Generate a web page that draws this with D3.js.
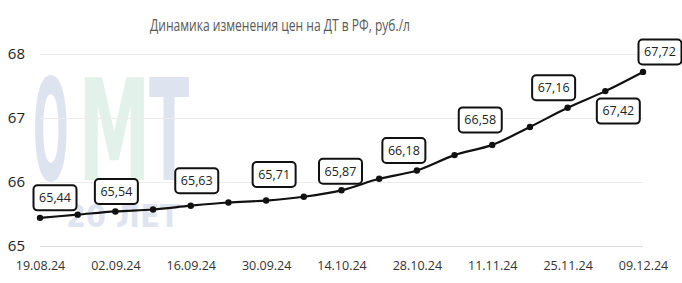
<!DOCTYPE html>
<html>
<head>
<meta charset="utf-8">
<script src="https://cdn.jsdelivr.net/npm/d3@7"></script>
<style>
  body { margin: 0; background: #fff; }
  svg { display: block; font-family: "Open Sans", sans-serif; }
</style>
</head>
<body>
<div id="chart"></div>
<script>
// weekly diesel prices, rub/l
var dates = ["19.08.24", "26.08.24", "02.09.24", "09.09.24", "16.09.24", "23.09.24",
             "30.09.24", "07.10.24", "14.10.24", "21.10.24", "28.10.24", "04.11.24",
             "11.11.24", "18.11.24", "25.11.24", "02.12.24", "09.12.24"];
var prices = [65.44, 65.49, 65.54, 65.57, 65.63, 65.68, 65.71, 65.77, 65.87, 66.05,
              66.18, 66.42, 66.58, 66.86, 67.16, 67.42, 67.72];
var labelled = ["19.08.24", "02.09.24", "16.09.24", "30.09.24", "14.10.24", "28.10.24",
                "11.11.24", "25.11.24", "02.12.24", "09.12.24"];
var xTicks = ["19.08.24", "02.09.24", "16.09.24", "30.09.24", "14.10.24", "28.10.24",
              "11.11.24", "25.11.24", "09.12.24"];
var yTicks = [65, 66, 67, 68];
var title = "Динамика изменения цен на ДТ в РФ, руб./л";

var width = 682, height = 283;
var margin = {top: 54, right: 39, bottom: 37, left: 40};

var svg = d3.select("#chart").append("svg")
    .attr("width", width)
    .attr("height", height);

var x = d3.scalePoint()
    .domain(dates)
    .range([margin.left, width - margin.right]);

var y = d3.scaleLinear()
    .domain([65, 68])
    .range([height - margin.bottom, margin.top]);

// watermark (letter, left x, x-scale, colour)
var wm = svg.append("g").attr("class", "watermark");
[["O", 33, 0.3, "#dee4ef"], ["M", 78, 0.52, "#e2f1e9"], ["T", 149, 0.42, "#dee4ef"]].forEach(function(l) {
    wm.append("text")
        .attr("transform", "translate(" + l[1] + ",180) scale(" + l[2] + ",1)")
        .attr("font-family", "DejaVu Sans")
        .attr("font-weight", "bold")
        .attr("font-size", 140)
        .attr("fill", l[3])
        .text(l[0]);
});
wm.append("text")
    .attr("transform", "translate(66,227) scale(0.9,1)")
    .attr("font-family", "DejaVu Sans")
    .attr("font-weight", "bold")
    .attr("font-size", 32)
    .attr("fill", "#dfe5f0")
    .text("20 ЛЕТ");

// title
svg.append("text")
    .attr("x", 150)
    .attr("y", 31)
    .attr("font-size", 17)
    .attr("textLength", 260)
    .attr("lengthAdjust", "spacingAndGlyphs")
    .attr("fill", "#595959")
    .text(title);

// gridlines + y labels
var yAxis = svg.append("g")
    .attr("transform", "translate(" + margin.left + ",0)")
    .call(d3.axisLeft(y).tickValues(yTicks).tickSize(-(width - margin.left - margin.right)).tickPadding(15).tickFormat(d3.format("d")));
yAxis.select(".domain").remove();
yAxis.selectAll(".tick line")
    .attr("stroke", function(d) { return d === 65 ? "#d9d9d9" : "#ececec"; });
yAxis.selectAll(".tick text")
    .attr("font-size", 15)
    .attr("font-family", "Open Sans")
    .attr("fill", "#222");

// x labels
var xAxis = svg.append("g")
    .attr("transform", "translate(0," + (height - margin.bottom) + ")")
    .call(d3.axisBottom(x).tickValues(xTicks).tickSize(0).tickPadding(15));
xAxis.select(".domain").remove();
xAxis.selectAll(".tick text")
    .attr("font-size", 12.5)
    .attr("font-family", "Open Sans")
    .attr("fill", "#333");

// line
var line = d3.line()
    .x(function(d, i) { return x(dates[i]); })
    .y(function(d) { return y(d); })
    .curve(d3.curveMonotoneX);

svg.append("path")
    .datum(prices)
    .attr("fill", "none")
    .attr("stroke", "#111")
    .attr("stroke-width", 2.2)
    .attr("d", line);

svg.selectAll("circle.pt")
    .data(prices)
    .enter().append("circle")
    .attr("class", "pt")
    .attr("cx", function(d, i) { return x(dates[i]); })
    .attr("cy", function(d) { return y(d); })
    .attr("r", 3.2)
    .attr("fill", "#111");

// data labels (offsets relative to the point)
var labelOffset = {
    "19.08.24": [15, -20], "02.09.24": [1, -20], "16.09.24": [6, -25],
    "30.09.24": [8, -26], "14.10.24": [-1, -19], "28.10.24": [-13, -20],
    "11.11.24": [-12, -25], "25.11.24": [-14, -20], "02.12.24": [13, 20],
    "09.12.24": [17, -20]
};
var fmt = function(v) { return d3.format(".2f")(v).replace(".", ","); };
var bw = 43, bh = 25;

var labels = svg.selectAll("g.lbl")
    .data(labelled)
    .enter().append("g")
    .attr("class", "lbl")
    .attr("transform", function(d) {
        var i = dates.indexOf(d), o = labelOffset[d];
        return "translate(" + (x(d) + o[0]) + "," + (y(prices[i]) + o[1]) + ")";
    });

labels.append("rect")
    .attr("x", -bw / 2)
    .attr("y", -bh / 2)
    .attr("width", bw)
    .attr("height", bh)
    .attr("rx", 4)
    .attr("fill", "#fff")
    .attr("stroke", "#111")
    .attr("stroke-width", 2);

labels.append("text")
    .attr("text-anchor", "middle")
    .attr("dy", "0.35em")
    .attr("font-size", 12.5)
    .attr("fill", "#222")
    .text(function(d) { return fmt(prices[dates.indexOf(d)]); });
</script>
</body>
</html>
